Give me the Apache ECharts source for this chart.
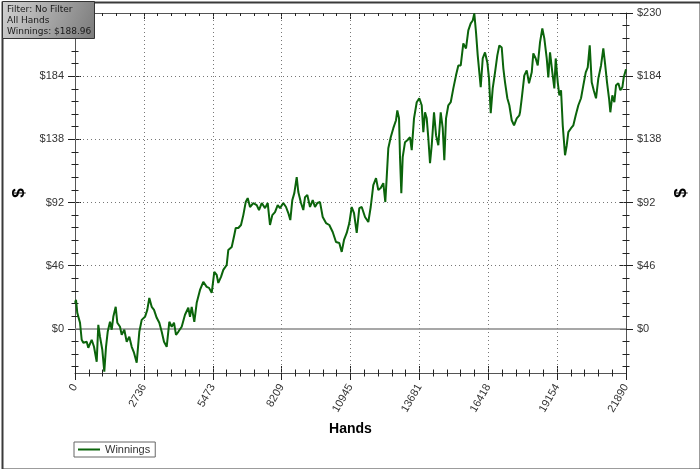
<!DOCTYPE html>
<html>
<head>
<meta charset="utf-8">
<script src="https://cdn.jsdelivr.net/npm/echarts@6/dist/echarts.min.js"></script>
<style>
html,body{margin:0;padding:0;background:#fff;}
#chart{width:700px;height:469px;}
</style>
</head>
<body>
<div id="chart"></div>
<script>
// ---- data ----
var hands = [
0,40,91,199,266,330,465,528,663,755,862,926,993,1085,1164,1232,1299,1391,1458,1522,
1617,1681,1788,1855,1959,2054,2157,2253,2344,2451,2515,2555,2650,2781,2872,2952,3047,3139,3246,3349,
3445,3536,3643,3747,3842,3933,4013,4104,4239,4370,4501,
4569,4636,4740,4835,4966,5097,5232,5324,5431,5534,5630,5693,5801,5892,6027,6091,6226,6329,6385,6488,
6595,6687,6782,6861,6953,7084,7219,7310,7418,7549,7656,7747,7839,7946,8053,8145,8276,8383,8474,8554,
8633,8713,8808,8872,8979,9070,
9138,9229,9337,9444,9535,9627,9734,9841,9972,10103,10238,10369,10500,10596,10687,10795,10898,10993,11085,11192,
11295,11391,11522,11653,11748,11851,11959,12050,12145,12249,12328,12384,12447,12543,12646,12753,12805,12873,12912,12964,
13019,13111,13202,13310,13377,
13468,13576,13679,13774,13838,13906,13973,14037,14104,14172,14263,14343,14434,14529,14609,14672,14740,14831,14927,15030,
15137,15229,15324,15427,15534,15626,15721,15801,15864,15932,15999,16063,16118,16198,16289,16381,16448,16516,16595,16687,
16778,16858,16953,17017,17084,17176,17255,17350,17442,17549,17652,
17680,17748,17851,17946,18037,18145,18208,18304,18383,18474,18566,18645,18741,18804,18872,18963,19043,19098,19178,19242,
19309,19377,19468,19536,19599,19706,19798,19893,19997,20103,20195,20290,20370,20449,20528,20608,20699,20791,20898,20989,
21057,21136,21216,21268,21347,21427,21494,21586,21665,21745,21800,21890
];
var winnings = [
18.9,21.1,11.6,4.4,-8.0,-10.2,-9.4,-13.8,-8.0,-13.1,-24.0,2.9,-5.8,-15.3,-31.2,-13.1,-2.2,5.1,-0.7,8.7,
16.0,4.4,1.5,-4.4,-0.7,-9.4,-5.8,-13.1,-17.4,-24.7,-24.0,-2.2,6.5,8.7,13.8,22.5,16.0,13.8,8.0,4.4,
-2.2,-9.4,-13.1,5.1,1.5,4.4,-4.4,-2.2,1.5,10.2,15.3,
8.7,16.0,5.1,18.9,28.3,34.2,30.5,29.8,26.2,41.4,39.2,33.4,37.8,42.9,46.5,57.4,59.6,68.3,73.4,73.4,
75.6,82.8,92.3,95.2,88.7,91.6,90.1,86.5,91.6,87.9,91.6,75.6,82.8,85.0,90.1,87.9,91.6,88.7,84.3,79.2,
93.7,98.8,110.5,99.6,91.6,86.5,
95.9,97.4,88.7,93.7,88.7,91.6,92.3,81.4,77.0,75.6,70.5,63.2,62.5,56.0,64.7,69.8,77.0,88.7,84.3,69.8,
87.9,88.7,81.4,77.8,88.7,104.6,109.7,101.0,102.5,106.1,92.3,110.5,131.5,139.5,146.1,151.9,159.1,153.3,125.0,98.8,
125.0,135.9,137.3,139.5,130.1,
153.3,165.0,167.9,162.8,143.2,157.7,153.3,138.8,120.6,133.7,157.7,141.0,133.7,157.7,146.1,122.8,153.3,162.8,165.0,175.1,
184.6,191.8,191.8,207.8,204.2,217.3,222.4,224.5,229.6,215.8,199.1,186.8,175.9,196.9,201.3,194.0,182.4,157.0,175.1,186.8,
199.1,206.4,204.9,189.7,179.5,167.9,162.8,151.9,148.2,153.3,155.5,
157.7,167.9,184.6,188.2,178.8,186.8,200.6,196.9,191.8,208.6,218.7,211.5,196.9,183.1,201.3,186.8,175.1,196.9,179.5,170.0,
173.7,148.2,126.4,133.7,143.2,146.1,148.2,155.5,162.8,167.9,177.3,186.8,190.4,206.4,179.5,173.7,167.9,182.4,191.8,204.2,
193.3,179.5,167.9,157.7,170.0,165.0,177.3,178.8,173.7,175.9,183.1,188.96
];
var xTickValues = [0, 2736.25, 5472.5, 8208.75, 10945, 13681.25, 16417.5, 19153.75, 21890];
var xTickLabels = ['0','2736','5473','8209','10945','13681','16418','19154','21890'];
var yTickValues = [0, 46, 92, 138, 184, 230];
var yTickLabels = ['$0','$46','$92','$138','$184','$230'];
var infoLines = ['Filter: No Filter', 'All Hands', 'Winnings: $188.96'];

var Y_MIN = -32.2, Y_MAX = 230;
var X_MIN = 0, X_MAX = 21890, X_INT = 2736.25;

// minor y ticks (5 subdivisions between labelled ticks)
var yMinor = [];
for (var k = -3; k <= 25; k++) {
  if (k % 5 !== 0) yMinor.push(Math.round(k * 9.2 * 100) / 100);
}

var data = hands.map(function (h, i) { return [h, winnings[i]]; });

var AXC = '#555';
var font = 'Liberation Sans, Arial, sans-serif';

function yAx(pos, values, inside, len, main) {
  return {
    type: 'value', position: pos, min: Y_MIN, max: Y_MAX,
    axisLine: { show: !!main, lineStyle: { color: AXC, width: 1 } },
    axisTick: { show: true, inside: inside, length: len, customValues: values,
      lineStyle: { color: '#222', width: 1 } },
    axisLabel: main ? {
      show: true, customValues: yTickValues, margin: 11,
      formatter: function (v) { return yTickLabels[yTickValues.indexOf(Math.round(v))] || ''; },
      color: '#333', fontSize: 11, fontFamily: font
    } : { show: false },
    splitLine: { show: false },
    name: main ? '$' : '', nameLocation: 'middle', nameRotate: 90,
    nameGap: pos === 'left' ? 47 : 43,
    nameTextStyle: { fontSize: 17, fontWeight: 'bold', color: '#000', fontFamily: font }
  };
}

function xAx(pos, inside, len, mlen, main, line) {
  return {
    type: 'value', position: pos, min: X_MIN, max: X_MAX, interval: X_INT,
    axisLine: { show: !!line, onZero: false, lineStyle: { color: AXC, width: 1 } },
    axisTick: { show: true, inside: inside, length: len, lineStyle: { color: '#222', width: 1 } },
    minorTick: { show: true, splitNumber: 5, length: mlen, lineStyle: { color: '#222', width: 1 } },
    axisLabel: main ? {
      show: true, rotate: 60, margin: 12, color: '#333', fontSize: 11, fontFamily: font,
      formatter: function (v) { return xTickLabels[Math.round(v / X_INT)]; }
    } : { show: false },
    splitLine: { show: false },
    minorSplitLine: { show: false },
    name: main ? 'Hands' : '', nameLocation: 'middle', nameGap: 47,
    nameTextStyle: { fontSize: 14, fontWeight: 'bold', color: '#000', fontFamily: font }
  };
}

var gridLines = [];
yTickValues.forEach(function (v) {
  if (v > 0 && v < 230) gridLines.push({ yAxis: v });
});
xTickValues.forEach(function (v) {
  if (v > 0 && v < X_MAX) gridLines.push({ xAxis: v });
});
gridLines.push({ yAxis: 0, lineStyle: { type: 'solid', color: '#8a8a8a', width: 1.5 } });

var chart = echarts.init(document.getElementById('chart'), null, { renderer: 'canvas' });
chart.setOption({
  animation: false,
  backgroundColor: '#fff',
  grid: { left: 75, right: 74, top: 13, bottom: 96, containLabel: false },
  xAxis: [
    xAx('bottom', false, 7, 3.5, true, true),
    xAx('bottom', true, 7, 3.5, false, false),
    xAx('top', true, 6, 3, false, true)
  ],
  yAxis: [
    yAx('left', yTickValues, false, 7, true),
    yAx('left', yTickValues, true, 6, false),
    yAx('left', yMinor, false, 3.5, false),
    yAx('left', yMinor, true, 3.5, false),
    yAx('right', yTickValues, false, 7, true),
    yAx('right', yTickValues, true, 6, false),
    yAx('right', yMinor, false, 3.5, false),
    yAx('right', yMinor, true, 3.5, false)
  ],
  legend: {
    left: 74, top: 442, orient: 'horizontal',
    borderColor: '#666', borderWidth: 1, padding: [2, 5, 2, 4],
    itemWidth: 22, itemHeight: 2, icon: 'rect',
    textStyle: { color: '#333', fontSize: 11, fontFamily: font },
    data: ['Winnings']
  },
  series: [
    {
      name: 'grid', type: 'line', data: [[0, 0]], z: 1,
      showSymbol: false, lineStyle: { opacity: 0 }, silent: true,
      markLine: {
        silent: true, symbol: ['none', 'none'], label: { show: false },
        lineStyle: { type: [1, 3], color: '#777', width: 1 },
        data: gridLines, animation: false
      }
    },
    {
      name: 'Winnings', type: 'line', data: data, z: 5,
      showSymbol: false, symbol: 'none',
      lineStyle: { color: '#0b640b', width: 2 },
      itemStyle: { color: '#0b640b' }
    }
  ],
  graphic: [
    {
      type: 'rect', z: 100, zlevel: 1, left: 0, top: 0,
      shape: { x: 0.5, y: 0.5, width: 698, height: 467 },
      style: { fill: 'none', stroke: '#3a3a3a', lineWidth: 2 }
    },
    {
      type: 'rect', z: 110, zlevel: 1, left: 2, top: 1,
      shape: { x: 0, y: 0, width: 92, height: 37 },
      style: {
        fill: new echarts.graphic.LinearGradient(0, 0, 1, 1, [
          { offset: 0, color: '#d2d2d2' }, { offset: 1, color: '#7a7a7a' }
        ]),
        stroke: '#333', lineWidth: 1
      }
    },
    { type: 'text', z: 120, zlevel: 1, left: 7, top: 5, style: { text: infoLines[0], fill: '#1a1a1a', font: '9px DejaVu Sans' } },
    { type: 'text', z: 120, zlevel: 1, left: 7, top: 16, style: { text: infoLines[1], fill: '#1a1a1a', font: '9px DejaVu Sans' } },
    { type: 'text', z: 120, zlevel: 1, left: 7, top: 27, style: { text: infoLines[2], fill: '#1a1a1a', font: '9px DejaVu Sans' } }
  ]
});
</script>
</body>
</html>
